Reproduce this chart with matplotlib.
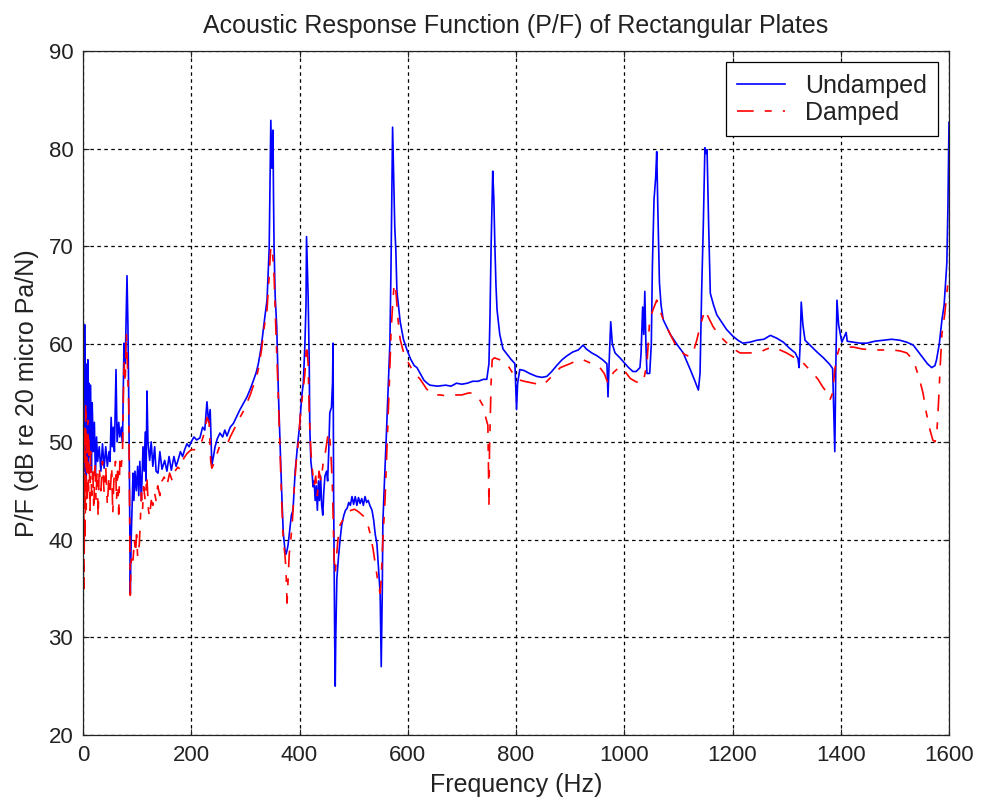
import matplotlib
matplotlib.use('Agg')
import matplotlib.pyplot as plt

plt.rcParams['font.family'] = ['Liberation Sans', 'DejaVu Sans']
plt.rcParams['lines.scale_dashes'] = False

# undamped response
f_und = [0, 0.5, 1.5, 2.5, 3, 4, 5, 6, 7, 8, 9, 10, 11, 12, 14, 15.5, 17, 19, 21, 23,
         25, 27, 30, 33, 36, 39, 42, 45, 48, 50, 52, 54, 56, 58, 61, 63, 66, 68, 71, 73,
         75.7, 78, 81.3, 83, 84.4, 86, 87.4, 89, 92.4, 94, 96, 98.5, 101, 103, 105, 107.8,
         110.9, 113, 115, 116.5, 118.2, 120, 123.2, 126, 129, 132.4, 135, 138.6, 142, 146,
         150.9, 155, 159, 163.2, 168, 172, 175.5, 180, 184, 187.8, 192, 196, 200, 205, 210,
         216, 221, 225, 229, 232, 235, 238, 241, 244, 248, 253, 258, 262, 266, 272, 278,
         284, 290, 297, 303, 309, 315, 320, 324, 328, 331, 336, 340, 344, 346, 347, 349,
         351, 352, 353, 355, 358, 361, 364, 367, 370, 373, 375, 377, 379, 382, 385, 388,
         392, 397, 400, 404, 407, 410, 412, 413, 414.5, 416, 418, 419, 421, 423, 425, 427,
         429, 431, 433, 435, 437, 439, 441, 443, 445, 447, 450, 452, 454, 456, 459, 461,
         462, 463, 465, 466, 467, 469, 472, 475, 478, 482, 485, 488, 491, 494, 497, 500,
         503, 506, 509, 512, 515, 518, 521, 524, 527, 530, 534, 537, 540, 543, 546, 549,
         551, 553, 554, 557, 560, 563, 567, 569, 571, 572, 574, 576, 578, 580, 586, 592,
         598, 605, 612, 617, 623, 630, 636, 641, 655, 670, 680, 690, 700, 710, 720, 730,
         740, 746, 750, 752, 754, 757, 759, 761, 763, 765, 770, 776, 783, 790, 798, 800,
         801, 803, 807, 815, 825, 838, 848, 857, 866, 875, 885, 894, 905, 915, 924, 930,
         940, 950, 960, 968, 970, 972, 975, 978, 983, 992, 1000, 1008, 1016, 1022, 1029,
         1031, 1034, 1036, 1038, 1040, 1042, 1047, 1050, 1052, 1055, 1058, 1060, 1062,
         1065, 1068, 1072, 1078, 1085, 1097, 1109, 1115, 1122, 1130, 1137, 1140, 1143,
         1146, 1149, 1151, 1153, 1156, 1159, 1165, 1171, 1177, 1189, 1201, 1210, 1219,
         1232, 1245, 1258, 1270, 1282, 1294, 1305, 1316, 1321, 1323, 1325, 1327, 1330,
         1334, 1345, 1356, 1368, 1380, 1385, 1389, 1391, 1393, 1396, 1402, 1410, 1412,
         1423, 1435, 1448, 1463, 1478, 1494, 1509, 1522, 1534, 1545, 1552, 1560, 1568,
         1574, 1577, 1582, 1587, 1591, 1596, 1598, 1600]
p_und = [65.5, 43.5, 61.5, 47, 62, 50, 58, 46, 57.5, 49, 58.4, 47.5, 56, 48.5, 55.8, 47, 54, 49, 52, 46.5,
         50.5, 48, 49.5, 47, 49.8, 47.3, 49.5, 47.5, 49, 48, 52.5, 49.5, 51.5, 49, 57.4, 50, 52, 50.5, 51.5, 50,
         60.1, 58, 67, 62, 55, 45, 34.5, 40, 46.8, 44, 47, 45, 47.5, 44.5, 48, 44,
         49.5, 47, 51, 46, 55.2, 50, 48.1, 50, 47.5, 49.5, 47, 46.8, 49, 47.2,
         48.1, 47, 48.5, 47.1, 48.5, 47.5, 48.1, 49, 48.5, 49.2, 49.8, 49.5, 50, 50.5, 50.2,
         50.4, 51.5, 51.2, 54.1, 52, 53.3, 47.6, 48.5, 49.5, 50.3, 50.9, 50.5, 51.2, 50.6, 51.5, 51.9,
         52.6, 53.3, 54, 54.6, 55.4, 56.3, 57.1, 58, 59.3, 60.5, 62.8, 64.5, 69.8, 78, 82.9, 78,
         81.9, 75, 70, 65, 61.7, 55, 49.9, 45, 40.7, 39, 38.5, 38.9, 39.5, 41, 42.5, 43,
         47, 50, 51.5, 54.6, 56, 60, 64, 71, 68, 64.8, 58, 51.5, 48, 47, 45.4, 46,
         44, 45.5, 43, 46, 44, 46.5, 43.5, 42.5, 45, 46.5, 47, 46, 49, 53, 53.5, 56,
         60.1, 45, 30, 25, 30, 36, 38.2, 40, 41.5, 42.5, 43, 43.2, 43.8, 43.5, 44.4, 43.6,
         44.4, 43.5, 44.3, 43.7, 44.2, 43.5, 44.4, 43.8, 44, 43.5, 43, 42, 40.5, 39.6, 37, 34.5,
         27, 35, 41.7, 46, 50, 54.3, 60.1, 67.6, 78, 82.2, 77, 72, 69.6, 65.4, 62.3, 60.5,
         59.5, 58.5, 57.8, 57.6, 57, 56.3, 56, 55.8, 55.7, 55.8, 55.7, 56, 55.9, 56, 56.2, 56.2,
         56.4, 56.4, 58, 63, 70, 77.7, 75, 70, 66, 63.5, 61, 59.5, 59, 58.5, 58, 55,
         53.3, 56, 57.4, 57.3, 57, 56.7, 56.6, 56.7, 57.2, 57.8, 58.4, 58.8, 59.2, 59.4, 59.9, 59.5,
         59.1, 58.8, 58.4, 58, 54.6, 58, 62.3, 60, 59.1, 58.6, 58.1, 57.6, 57.2, 57.2, 57.6,
         59, 63.8, 61, 65.4, 60, 57, 57, 60, 68, 74.8, 77, 79.7, 74,
         66.3, 64, 62.5, 61.8, 61, 60, 59.1, 58.3, 57.4, 56.3, 55.3, 57, 65.4,
         72, 80.1, 79.5, 79.9, 72, 65.2, 64, 63, 62.5, 61.5, 60.8, 60.4, 60.1,
         60.2, 60.4, 60.5, 60.9, 60.6, 60.2, 59.6, 59.1, 58.5, 57.6, 60, 64.3, 62,
         60.4, 59.8, 59.2, 58.6, 57.9, 57.5, 49, 58, 64.5, 62, 60.2, 61.2, 60.3,
         60.2, 60.1, 60.1, 60.3, 60.4, 60.5, 60.4, 60.2, 59.9, 59.1, 58.6, 58, 57.6,
         57.8, 58.4, 60, 62.5, 64, 68.3, 74, 82.7]

# damped response
f_dmp = [0, 0.5, 1, 2, 3, 4, 5, 6, 7, 8, 9, 10, 11, 13, 14, 16, 18, 20, 22, 24,
         26, 28, 30, 33, 36, 39, 42, 45, 48, 50, 53, 55, 57, 60, 62, 64, 66, 68, 70, 73,
         75.7, 78, 80, 82, 84.4, 86, 87.4, 89, 92.4, 95, 97, 99, 101, 104, 106, 108, 110,
         112, 115, 118, 121, 123, 126, 129, 132, 135, 138, 142, 146, 150, 155, 160, 165,
         170, 175, 180, 186, 192, 200, 208, 216, 222, 226, 229, 233, 236, 238, 242, 246,
         252, 258, 266, 272, 280, 290, 297, 303, 309, 315, 320, 325, 330, 335, 340, 344,
         347, 350, 353, 356, 360, 364, 367, 370, 373, 375, 377, 379, 381, 384, 387, 390,
         394, 398, 402, 406, 410, 413, 416, 418, 421, 424, 427, 430, 433, 436, 440, 444,
         448, 452, 455, 458, 461, 464, 466, 468, 471, 475, 480, 487, 495, 502, 510, 518,
         525, 531, 536, 540, 544, 547, 549, 551, 554, 558, 562, 566, 569, 572, 575, 578,
         582, 586, 592, 598, 610, 623, 635, 647, 660, 672, 684, 700, 712, 721, 730, 739,
         744, 748, 749, 750, 751, 754, 756, 760, 770, 783, 792, 802, 815, 832, 841, 850,
         866, 882, 900, 915, 924, 940, 955, 963, 970, 975, 980, 992, 1000, 1011, 1020,
         1028, 1035, 1042, 1047, 1053, 1060, 1066, 1072, 1085, 1097, 1110, 1121, 1128,
         1134, 1140, 1149, 1155, 1164, 1177, 1190, 1202, 1214, 1232, 1251, 1263, 1275,
         1288, 1300, 1312, 1325, 1337, 1349, 1358, 1367, 1375, 1380, 1385, 1389, 1393,
         1398, 1410, 1423, 1440, 1460, 1478, 1497, 1510, 1522, 1530, 1537, 1545, 1552,
         1558, 1565, 1570, 1574, 1577, 1580, 1584, 1587, 1592, 1598, 1600]
p_dmp = [31, 38, 50, 35, 52, 40, 54, 43, 51, 44, 52.2, 45, 50.5, 43, 49, 44.5, 47.5, 43, 48, 44,
         47, 42.3, 47.5, 45, 48, 44.8, 47.5, 43.5, 46.5, 44.5, 47.5, 42.6, 46, 48, 44, 47, 42.6, 48, 47, 49,
         58.4, 56, 61.2, 58, 54, 44, 34.3, 38, 37.9, 40, 38.6, 40.5, 38.2, 39.5, 42, 44.8, 43,
         45.4, 44, 46.5, 43, 42.3, 44, 43.5, 44.8, 44, 45.5, 44.5, 46, 46.4, 45.5, 46.8, 46,
         47, 47.4, 47.2, 48.3, 48.8, 49.2, 49.2, 49.5, 50.5, 51.5, 52.5, 52, 48, 47.3, 47.8, 48.5,
         49.5, 49.6, 49.7, 50.5, 51.4, 52.5, 53.2, 54, 54.8, 55.8, 56.5, 57.7, 59.5, 61.8, 63.5, 67,
         70, 69.5, 67, 62, 56, 49, 44, 40, 38.5, 37, 33.5, 36, 38.5, 40, 42, 45,
         48, 50, 53, 55, 57, 60, 58, 53, 49, 47, 45.5, 46.5, 44.5, 47, 46, 48,
         49, 50.5, 51, 49, 45, 38, 36.5, 38, 40, 41.5, 42, 42.5, 43, 43.1, 42.8, 42.4,
         41.8, 40.5, 39, 37.5, 36, 35, 34.5, 36, 40, 44, 50, 56, 61, 64, 66.2, 65.5,
         62.5, 60.5, 59.2, 58.4, 57.2, 56.4, 55.4, 54.8, 54.8, 54.7, 54.8, 54.8, 55, 55, 54.6, 53.7,
         52.5, 51.7, 48, 43.4, 49, 56, 58.4, 58.6, 58.4, 58, 57.2, 56.4, 56.2, 56, 55.9, 55.8,
         56.7, 57.6, 58, 58.4, 58.4, 58, 57.6, 57, 56, 56.5, 57.1, 57.7, 57.3, 56.5, 56.2,
         56, 56.1, 58, 62.5, 63.5, 64.5, 63.5, 62.5, 61, 59.7, 59, 58.7, 59.3,
         60.4, 61.8, 63.5, 62.8, 61.8, 60.8, 60.1, 59.5, 59.1, 59.1, 59.2, 59.5, 59.7,
         59.4, 59.1, 58.7, 58.4, 57.7, 57, 56.4, 55.6, 55, 54.3, 55, 57.4, 58.8,
         59.7, 59.7, 59.7, 59.5, 59.4, 59.4, 59.4, 59.3, 59.1, 58.6, 57.9, 56.5, 55,
         53, 51.2, 50.2, 50, 50.5, 53.3, 58, 61.1, 63, 66.3, 66.5]

xticks = [0, 200, 400, 600, 800, 1000, 1200, 1400, 1600]
yticks = [20, 30, 40, 50, 60, 70, 80, 90]

fig = plt.figure(figsize=(9.81, 8.07), dpi=100)
ax = fig.add_axes([83 / 981, 1 - 735 / 807, 866 / 981, 684 / 807])

ax.plot(f_und, p_und, color='#0000ff', lw=1.2, label='Undamped')
ax.plot(f_dmp, p_dmp, color='#ff0000', lw=1.2, dashes=(12, 8, 5, 8), label='Damped')

ax.set_xlim(0, 1600)
ax.set_ylim(20, 90)
ax.set_xticks(xticks)
ax.set_yticks(yticks)
ax.grid(True, color='black', linestyle=(0, (2.5, 2.5)), linewidth=0.9)
ax.tick_params(direction='in', top=True, right=True, length=4, width=0.8,
               labelsize=16, pad=7, colors='#222222')
for s in ax.spines.values():
    s.set_linewidth(0.9)
    s.set_color('#222222')

ax.set_title('Acoustic Response Function (P/F) of Rectangular Plates', fontsize=18, pad=13,
             color='#222222')
ax.set_xlabel('Frequency (Hz)', fontsize=18, labelpad=5, color='#222222')
ax.set_ylabel('P/F (dB re 20 micro Pa/N)', fontsize=18, labelpad=7, color='#222222')

leg = ax.legend(loc='upper right', fontsize=18, fancybox=False, framealpha=1,
                edgecolor='black', borderaxespad=0.45, handlelength=1.9,
                handletextpad=0.8, labelspacing=0.12, borderpad=0.45)
leg.get_frame().set_linewidth(0.9)
for t in leg.get_texts():
    t.set_color('#222222')

fig.savefig('out.png', dpi=100)
